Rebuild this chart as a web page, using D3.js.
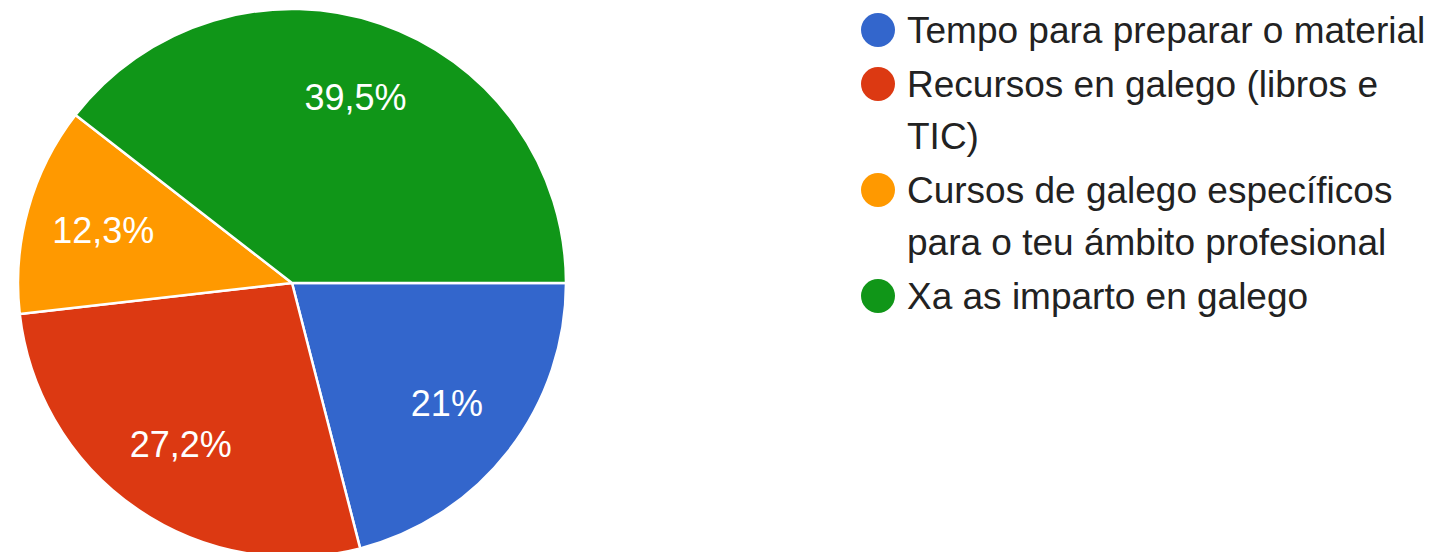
<!DOCTYPE html>
<html>
<head>
<meta charset="utf-8">
<script src="https://cdn.jsdelivr.net/npm/d3@7"></script>
<style>
  body { margin: 0; background: #fff; }
  svg text { font-family: "Liberation Sans", Arial, sans-serif; }
</style>
</head>
<body>
<div id="chart-area"></div>
<script>
/* Pie chart with legend */

var categories = [
    ["Tempo para preparar o material"],
    ["Recursos en galego (libros e", "TIC)"],
    ["Cursos de galego específicos", "para o teu ámbito profesional"],
    ["Xa as imparto en galego"]
];
var values = [21, 27.2, 12.3, 39.5];
var labels = ["21%", "27,2%", "12,3%", "39,5%"];
var colors = ["#3366cc", "#dc3912", "#ff9900", "#109618"];

var width = 1437, height = 552;
var cx = 292, cy = 283, radius = 274;

var svg = d3.select("#chart-area")
    .append("svg")
    .attr("width", width)
    .attr("height", height);

var g = svg.append("g")
    .attr("transform", "translate(" + cx + "," + cy + ")");

var pie = d3.pie()
    .sort(null)
    .startAngle(Math.PI / 2)
    .endAngle(Math.PI / 2 + 2 * Math.PI)
    .value(function(d) { return d; });

var arc = d3.arc().innerRadius(0).outerRadius(radius);
var labelArc = d3.arc().innerRadius(196).outerRadius(196);

var arcs = pie(values);

g.selectAll("path")
    .data(arcs)
    .enter()
    .append("path")
    .attr("d", arc)
    .attr("fill", function(d, i) { return colors[i]; })
    .attr("stroke", "#fff")
    .attr("stroke-width", 2.5)
    .attr("stroke-linejoin", "round");

g.selectAll("text.val")
    .data(arcs)
    .enter()
    .append("text")
    .attr("class", "val")
    .attr("transform", function(d) {
        return "translate(" + labelArc.centroid(d) + ")";
    })
    .attr("text-anchor", "middle")
    .attr("dy", "0.35em")
    .attr("fill", "#fff")
    .attr("font-size", 36)
    .text(function(d, i) { return labels[i]; });

// legend
var legend = svg.append("g");
var lineH = 52, itemGap = 2;
var y = 30;
categories.forEach(function(lines, i) {
    legend.append("circle")
        .attr("cx", 878)
        .attr("cy", y)
        .attr("r", 17)
        .attr("fill", colors[i]);
    lines.forEach(function(line, j) {
        legend.append("text")
            .attr("x", 907)
            .attr("y", y + j * lineH)
            .attr("dy", "0.35em")
            .attr("font-size", 37)
            .attr("fill", "#222")
            .text(line);
    });
    y += lines.length * lineH + itemGap;
});
</script>
</body>
</html>
